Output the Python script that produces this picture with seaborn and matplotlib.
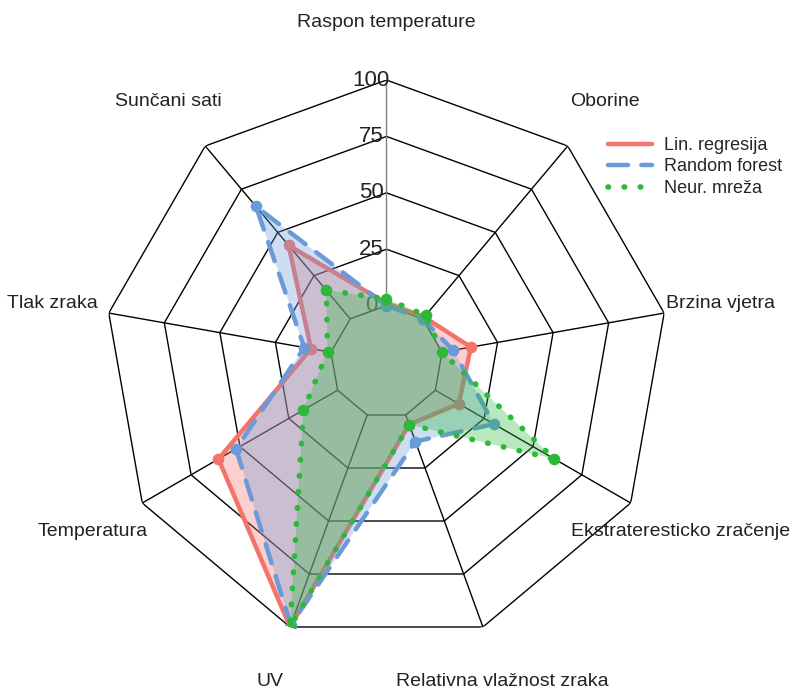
import numpy as np
import pandas as pd
import seaborn as sns
import matplotlib.pyplot as plt
from matplotlib.lines import Line2D

sns.set_theme(style='white')
plt.rcParams['font.family'] = ['Liberation Sans', 'DejaVu Sans']

# axes of the radar, clockwise from the top
labels = ['Raspon temperature', 'Oborine', 'Brzina vjetra',
          'Ekstrateresticko zračenje', 'Relativna vlažnost zraka', 'UV',
          'Temperatura', 'Tlak zraka', 'Sunčani sati']

lin_reg = [1, 1, 13, 12, 4.5, 100, 61, 9, 42.5]
rand_forest = [0, 0, 5, 30, 12.5, 99, 52, 12, 65]
neur_net = [3, 2, 0, 61, 4.5, 100, 17.5, 1.5, 16.5]

series_names = ['Lin. regresija', 'Random forest', 'Neur. mreža']
ring_values = [0, 25, 50, 75, 100]

colors = ['#F4736B', '#6A9BD8', '#2DB83A']
styles = ['-', (0, (4.5, 3)), (0, (0.1, 2.8))]
widths = [3.2, 3.2, 4]

n = len(labels)
theta = np.arange(n) * 2 * np.pi / n
theta_c = np.append(theta, theta[0] + 2 * np.pi)

fig = plt.figure(figsize=(7.94, 6.91), dpi=100)
ax = fig.add_axes([0.1316, 0.068, 0.7103, 0.8162], projection='polar')
ax.set_theta_zero_location('N')
ax.set_theta_direction(-1)

# nonagon grid
for r in ring_values:
    ax.plot(theta_c, [r] * (n + 1), color='black', lw=1, zorder=1)
for i, t in enumerate(theta):
    ax.plot([t, t], [0, 100], color='gray' if i == 0 else 'black', lw=1, zorder=1)

for r in ring_values:
    ax.annotate(str(r), xy=(0, r), xytext=(-11, 0), textcoords='offset points',
                ha='center', va='center', fontsize=16, color='#222222', zorder=2)

# series: line + points, then the fill on top
all_vals = [lin_reg, rand_forest, neur_net]
for k, (vals, name) in enumerate(zip(all_vals, series_names)):
    v = np.append(vals, vals[0])
    df = pd.DataFrame({'theta': theta_c, 'value': v})
    sns.lineplot(data=df, x='theta', y='value', sort=False, estimator=None,
                 ax=ax, color=colors[k], linestyle=styles[k], lw=widths[k],
                 dash_capstyle='round', zorder=3 + 2 * k)
    sns.scatterplot(x=theta, y=vals, ax=ax, color=colors[k], s=70,
                    edgecolor=colors[k], linewidth=0, zorder=3 + 2 * k)
    ax.fill(theta_c, v, color=colors[k], alpha=0.33, lw=0, zorder=4 + 2 * k)

for t, lab in zip(theta, labels):
    ax.text(t, 125.5, lab, ha='center', va='center', fontsize=14, color='#222222')

ax.set_ylim(-25, 100)
ax.set_xticks([])
ax.set_yticks([])
ax.grid(False)
ax.spines['polar'].set_visible(False)
ax.set_xlabel('')
ax.set_ylabel('')

handles = [Line2D([0], [0], color=colors[k], linestyle=styles[k], lw=widths[k],
                  dash_capstyle='round') for k in range(3)]
fig.legend(handles, series_names, loc='upper left',
           bbox_to_anchor=(0.755, 0.815), frameon=False, fontsize=13,
           handlelength=2.4, handletextpad=0.7, labelspacing=0.25, borderpad=0)

plt.savefig('out.png', dpi=100)
